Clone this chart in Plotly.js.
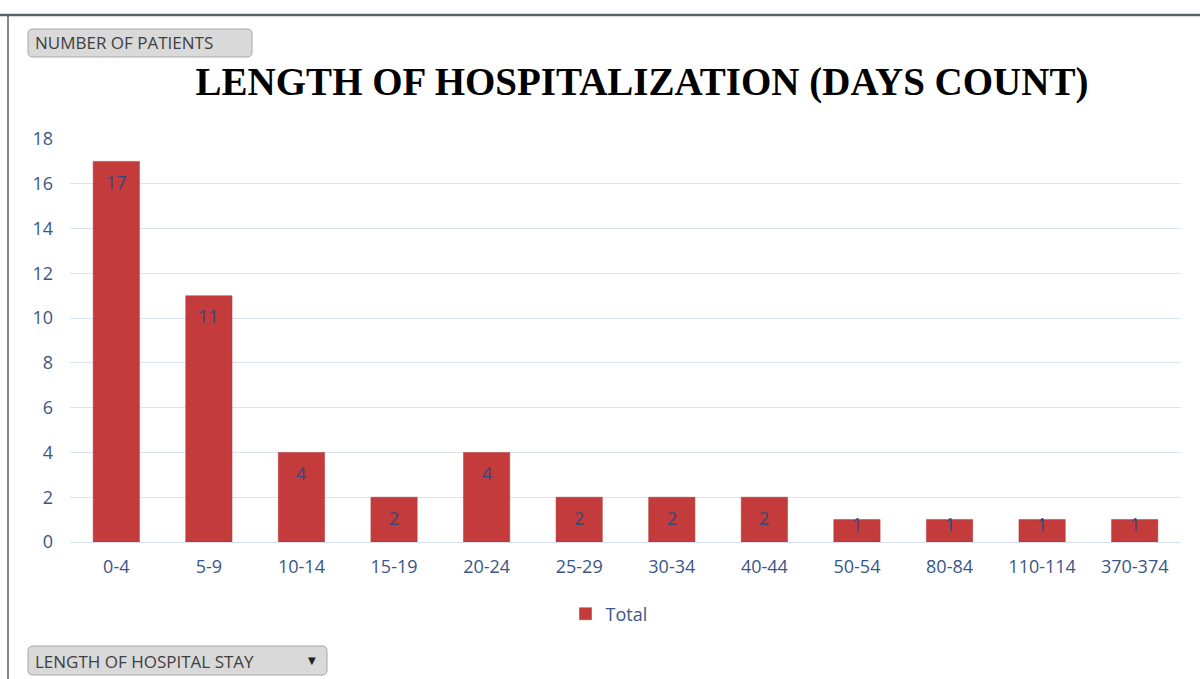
<!DOCTYPE html>
<html>
<head>
<meta charset="utf-8">
<script src="https://cdn.plot.ly/plotly-3.0.1.min.js"></script>
<style>
  html, body { margin: 0; padding: 0; background: #ffffff; }
  #chart { width: 1200px; height: 679px; }
</style>
</head>
<body>
<div id="chart"></div>
<script>
const categories = ["0-4", "5-9", "10-14", "15-19", "20-24", "25-29", "30-34", "40-44", "50-54", "80-84", "110-114", "370-374"];
const totals = [17, 11, 4, 2, 4, 2, 2, 2, 1, 1, 1, 1];
const yTicks = [0, 2, 4, 6, 8, 10, 12, 14, 16, 18];
const seriesName = "Total";
const chartTitle = "LENGTH OF HOSPITALIZATION (DAYS COUNT)";
const topButtonLabel = "NUMBER OF PATIENTS";
const bottomButtonLabel = "LENGTH OF HOSPITAL STAY";

// layout geometry (pixels)
const W = 1200, H = 679;
const M = { l: 70, r: 19, t: 139, b: 137 };
const plotW = W - M.l - M.r, plotH = H - M.t - M.b;
const yMax = 18;
const px = x => (x - M.l) / plotW;          // pixel x -> paper x
const py = y => (H - M.b - y) / plotH;      // pixel y -> paper y

function roundRect(x0, y0, x1, y1, r) {
  const rx = r / plotW, ry = r / plotH;
  const a = px(x0), b = px(x1), top = py(y0), bot = py(y1);
  return `M ${a + rx},${top} L ${b - rx},${top} Q ${b},${top} ${b},${top - ry} ` +
         `L ${b},${bot + ry} Q ${b},${bot} ${b - rx},${bot} L ${a + rx},${bot} ` +
         `Q ${a},${bot} ${a},${bot + ry} L ${a},${top - ry} Q ${a},${top} ${a + rx},${top} Z`;
}

const labelColor = "#3a5688";
const fontFam = "'Open Sans', 'Liberation Sans', sans-serif";

const trace = {
  type: "bar",
  x: categories,
  y: totals,
  name: seriesName,
  textposition: "none",
  marker: { color: "#c43b3b", line: { color: "#b23434", width: 0.5 } },
  hoverinfo: "x+y",
  showlegend: true
};

// data labels: inside the top of each bar, kept inside short bars
const dataLabels = categories.map((c, i) => {
  const hPx = totals[i] * plotH / yMax;
  const offset = Math.min(21.5, hPx - 16.5);
  return {
    xref: "x", yref: "y", x: c, y: totals[i],
    text: String(totals[i]), showarrow: false,
    xanchor: "center", yanchor: "middle",
    yshift: -offset + 1,
    font: { family: fontFam, size: 18, color: "#34497a" }
  };
});

const layout = {
  width: W, height: H,
  margin: M,
  paper_bgcolor: "#ffffff",
  plot_bgcolor: "#ffffff",
  bargap: 0.5,
  font: { family: fontFam, color: labelColor, size: 18 },
  title: {
    text: "<b>" + chartTitle + "</b>",
    font: { family: "'Liberation Serif', 'DejaVu Serif', serif", size: 39, color: "#000000" },
    x: px(642), xref: "paper", xanchor: "center",
    y: 1 - 81 / H, yref: "container", yanchor: "middle"
  },
  xaxis: {
    type: "category",
    tickfont: { family: fontFam, size: 18, color: labelColor },
    showgrid: false,
    showline: false,
    ticks: "",
    ticklabelstandoff: 12,
    automargin: false
  },
  yaxis: {
    range: [0, yMax],
    tickvals: yTicks,
    ticktext: yTicks.map(String),
    tickfont: { family: fontFam, size: 18, color: labelColor },
    showgrid: true,
    gridcolor: "#dbe5f1",
    gridwidth: 1,
    zeroline: true,
    zerolinecolor: "#d6e0ee",
    zerolinewidth: 1,
    showline: false,
    ticks: "",
    ticklabelstandoff: 16,
    automargin: false,
    fixedrange: true
  },
  legend: {
    orientation: "h",
    x: px(609), xanchor: "center",
    y: py(614), yanchor: "middle",
    font: { family: fontFam, size: 18, color: labelColor },
    bgcolor: "rgba(0,0,0,0)",
    itemwidth: 30
  },
  shapes: [
    { type: "line", xref: "paper", yref: "paper", x0: px(0), x1: px(1200), y0: py(15), y1: py(15),
      line: { color: "#5b6169", width: 2.5 } },
    { type: "line", xref: "paper", yref: "paper", x0: px(8), x1: px(8), y0: py(15), y1: py(679),
      line: { color: "#5b6169", width: 1.5 } },
    { type: "path", xref: "paper", yref: "paper", path: roundRect(28, 29, 252, 57, 5),
      fillcolor: "#d9d9d9", line: { color: "#a6a6a6", width: 1 } },
    { type: "path", xref: "paper", yref: "paper", path: roundRect(28, 646, 327, 675, 5),
      fillcolor: "#d9d9d9", line: { color: "#a6a6a6", width: 1 } }
  ],
  annotations: dataLabels.concat([
    { xref: "paper", yref: "paper", x: px(33), y: py(43), xanchor: "left", yanchor: "middle",
      text: topButtonLabel, showarrow: false,
      font: { family: fontFam, size: 17, color: "#404040" } },
    { xref: "paper", yref: "paper", x: px(33), y: py(661), xanchor: "left", yanchor: "middle",
      text: bottomButtonLabel, showarrow: false,
      font: { family: fontFam, size: 17, color: "#404040" } },
    { xref: "paper", yref: "paper", x: px(312), y: py(660), xanchor: "center", yanchor: "middle",
      text: "▼", showarrow: false,
      font: { family: "'DejaVu Sans', sans-serif", size: 10, color: "#222222" } }
  ])
};

Plotly.newPlot("chart", [trace], layout, { displayModeBar: false, staticPlot: true });
</script>
</body>
</html>
